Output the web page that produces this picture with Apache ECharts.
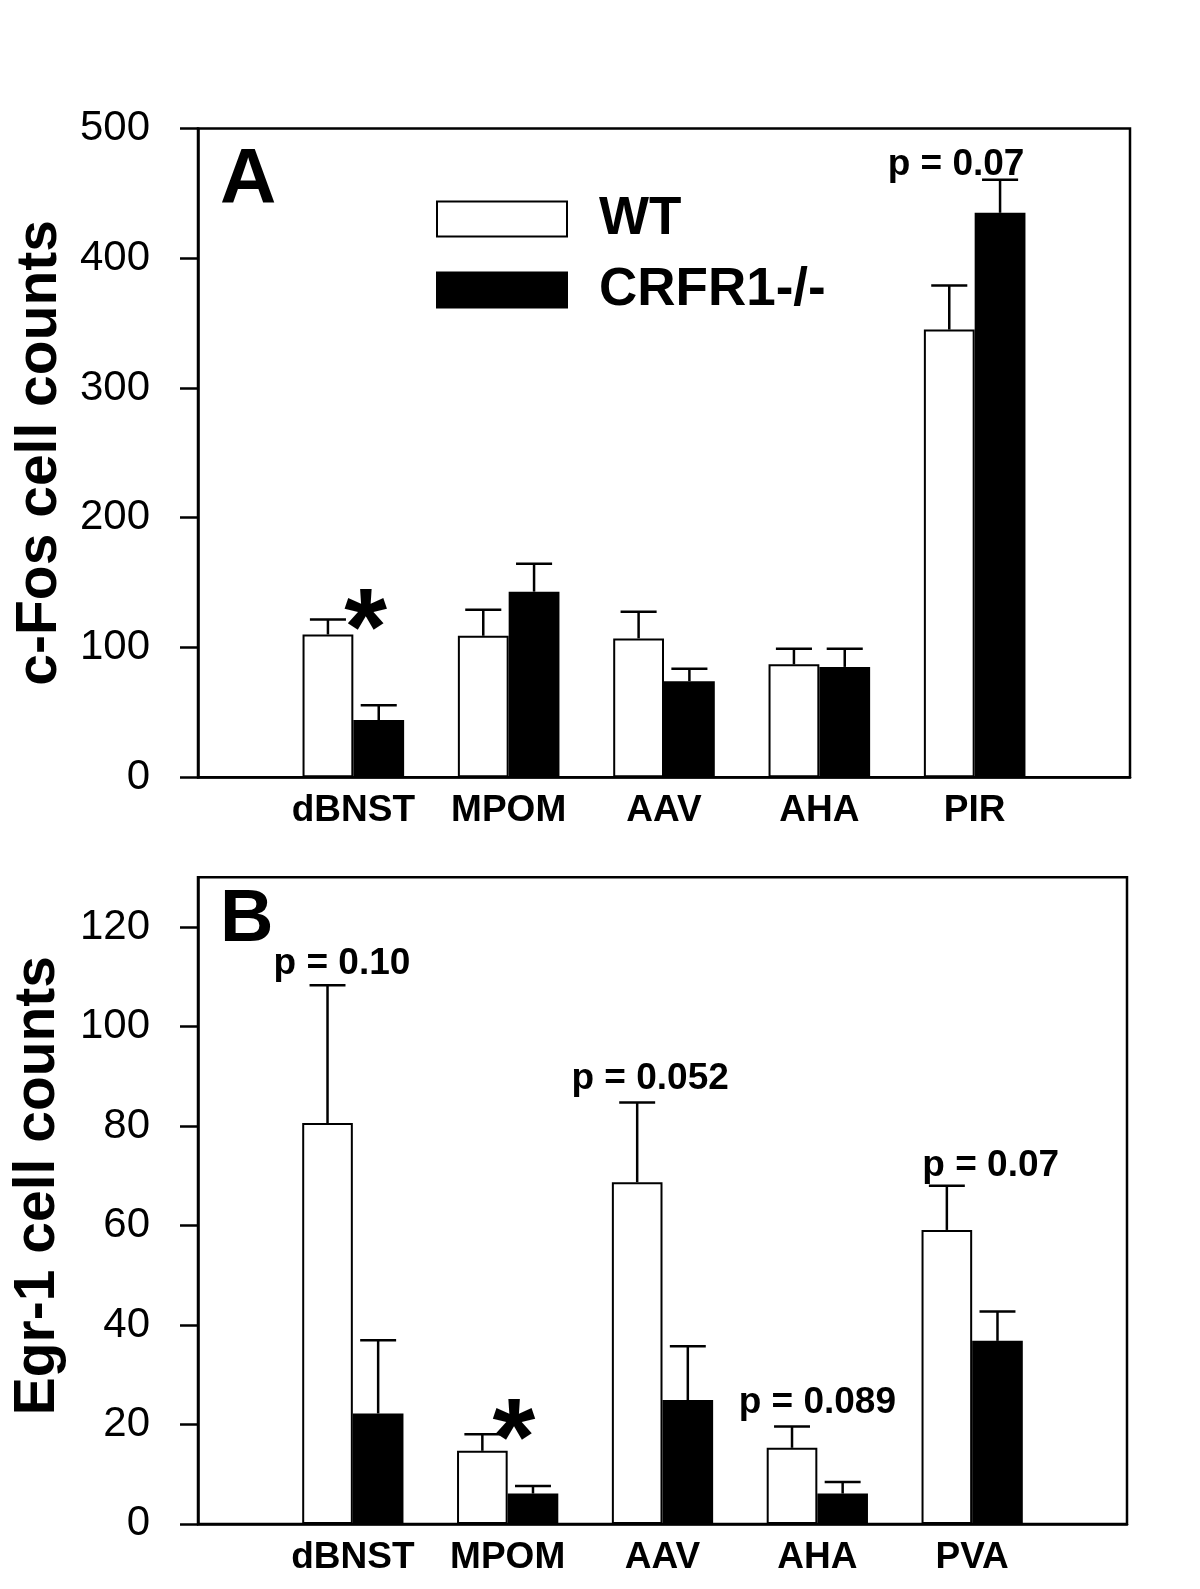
<!DOCTYPE html>
<html><head><meta charset="utf-8">
<script src="https://cdn.jsdelivr.net/npm/echarts@6/dist/echarts.min.js"></script>
<style>html,body{margin:0;padding:0;background:#fff}#c{width:1200px;height:1589px}</style>
</head><body><div id="c"></div>
<script>
// ---- data ----
const categoriesA = ['dBNST', 'MPOM', 'AAV', 'AHA', 'PIR'];
const categoriesB = ['dBNST', 'MPOM', 'AAV', 'AHA', 'PVA'];
const seriesNames = ['WT', 'CRFR1-/-'];
const wtA = [110, 109, 107, 87, 345];
const wtErrA = [11.5, 20, 20.5, 12, 34];
const koA = [44, 143, 74, 85, 435];
const koErrA = [11.5, 21.5, 9.5, 14, 25.5];
const wtB = [80.6, 14.7, 68.7, 15.3, 59.1];
const wtErrB = [27.7, 3.3, 16, 4.3, 8.9];
const koB = [22.2, 6.1, 24.9, 6.1, 36.8];
const koErrB = [14.7, 1.5, 10.8, 2.3, 5.9];
const yTicksA = [0, 100, 200, 300, 400, 500];
const yTicksB = [0, 20, 40, 60, 80, 100, 120];
const yTitleA = 'c-Fos cell counts';
const yTitleB = 'Egr-1 cell counts';
const panelLabels = ['A', 'B'];
// annotations, in data coordinates (x in category units from the y axis, y = text baseline)
const notesA = [{text: 'p = 0.07', x: 4.88, y: 464}];
const notesB = [
  {text: 'p = 0.10', x: 0.93, y: 110.5},
  {text: 'p = 0.052', x: 2.92, y: 87.5},
  {text: 'p = 0.089', x: 4.0, y: 22.3},
  {text: 'p = 0.07', x: 5.12, y: 70}
];
const starsA = [{x: 1.08, y: 111}];
const starsB = [{x: 2.04, y: 16.2}];

// ---- style ----
const FONT = '"Liberation Sans", Arial, Helvetica, sans-serif';
const BAR_RATIO = 0.327;
const CAP_HALF = 0.355;
const LW = 2.5;

function pad(arr) { return [''].concat(arr).concat([' ']); }
function pairs(arr) { return arr.map((v, i) => [i + 1, v]); }

function errData(wt, wtE, ko, koE) {
  return wt.map((v, i) => [i + 1, v, wtE[i], -1]).concat(ko.map((v, i) => [i + 1, v, koE[i], 1]));
}
function errRender(params, api) {
  const x = api.value(0), m = api.value(1), e = api.value(2), side = api.value(3);
  const p0 = api.coord([x, m]);
  const p1 = api.coord([x, m + e]);
  const bw = api.size([1, 0])[0] * BAR_RATIO;
  const cx = p0[0] + side * bw / 2;
  const half = bw * CAP_HALF;
  const st = {stroke: '#000', lineWidth: LW, fill: null};
  return {type: 'group', children: [
    {type: 'line', shape: {x1: cx, y1: p0[1], x2: cx, y2: p1[1]}, style: st},
    {type: 'line', shape: {x1: cx - half, y1: p1[1], x2: cx + half, y2: p1[1]}, style: st}
  ]};
}
function textSeries(list, xIdx, yIdx, size, valign, shift) {
  return {
    type: 'custom', xAxisIndex: xIdx, yAxisIndex: yIdx, z: 5, silent: true,
    data: list.map(n => [n.x, n.y]),
    renderItem: function (params, api) {
      const p = api.coord([api.value(0), api.value(1)]);
      return {type: 'text', x: p[0], y: p[1] + size * shift, style: {
        text: list[params.dataIndex].text || '*', fill: '#000',
        font: 'bold ' + size + 'px ' + FONT, align: 'center', verticalAlign: valign}};
    }
  };
}

const yAxisBase = {
  type: 'value', min: 0,
  axisLine: {show: true, lineStyle: {color: '#000', width: LW}},
  axisTick: {show: true, length: 18, lineStyle: {color: '#000', width: LW}},
  axisLabel: {fontSize: 42, color: '#000', fontFamily: FONT, margin: 48},
  splitLine: {show: false},
  nameLocation: 'middle',
  nameTextStyle: {fontSize: 57, fontWeight: 'bold', color: '#000', fontFamily: FONT}
};
const xAxisBase = {
  type: 'category', boundaryGap: false,
  axisLine: {lineStyle: {color: '#000', width: LW}},
  axisTick: {show: false},
  axisLabel: {interval: 0, fontSize: 37, fontWeight: 'bold', color: '#000', fontFamily: FONT, margin: 15}
};
const wtStyle = {color: '#fff', borderColor: '#000', borderWidth: 2};
const koStyle = {color: '#000', borderColor: '#000', borderWidth: 2};

const option = {
  animation: false,
  backgroundColor: '#fff',
  title: [
    {text: panelLabels[0], left: 220, top: 142, padding: 0, textStyle: {fontSize: 78, fontWeight: 'bold', color: '#000', fontFamily: FONT}},
    {text: panelLabels[1], left: 220, top: 884, padding: 0, textStyle: {fontSize: 74, fontWeight: 'bold', color: '#000', fontFamily: FONT}}
  ],
  legend: {
    data: seriesNames, orient: 'vertical', left: 436, top: 192, icon: 'rect', padding: 0,
    itemWidth: 130, itemHeight: 35, itemGap: 17, selectedMode: false,
    textStyle: {fontSize: 53, fontWeight: 'bold', color: '#000', fontFamily: FONT, lineHeight: 54, padding: [0, 0, 0, 27]}
  },
  grid: [
    {left: 198, top: 128.5, width: 932, height: 648.7, show: true, borderColor: '#000', borderWidth: LW, backgroundColor: 'transparent', outerBoundsMode: 'none'},
    {left: 198, top: 877.3, width: 929, height: 646.6, show: true, borderColor: '#000', borderWidth: LW, backgroundColor: 'transparent', outerBoundsMode: 'none'}
  ],
  xAxis: [
    Object.assign({}, xAxisBase, {gridIndex: 0, data: pad(categoriesA)}),
    Object.assign({}, xAxisBase, {gridIndex: 1, data: pad(categoriesB)}),
    {type: 'value', gridIndex: 0, min: 0, max: 6, show: false},
    {type: 'value', gridIndex: 1, min: 0, max: 6, show: false}
  ],
  yAxis: [
    Object.assign({}, yAxisBase, {gridIndex: 0, max: 500, interval: 100, name: yTitleA, nameGap: 129,
      axisLabel: Object.assign({}, yAxisBase.axisLabel, {customValues: yTicksA}),
      axisTick: Object.assign({}, yAxisBase.axisTick, {customValues: yTicksA})}),
    Object.assign({}, yAxisBase, {gridIndex: 1, max: 130, interval: 20, name: yTitleB, nameGap: 131,
      nameTextStyle: Object.assign({}, yAxisBase.nameTextStyle, {padding: [0, 0, 0, 30]}),
      axisLabel: Object.assign({}, yAxisBase.axisLabel, {customValues: yTicksB}),
      axisTick: Object.assign({}, yAxisBase.axisTick, {customValues: yTicksB})})
  ],
  series: [
    {name: seriesNames[0], type: 'bar', xAxisIndex: 0, yAxisIndex: 0, data: pairs(wtA), barWidth: (BAR_RATIO * 100) + '%', barGap: '0%', itemStyle: wtStyle, z: 2},
    {name: seriesNames[1], type: 'bar', xAxisIndex: 0, yAxisIndex: 0, data: pairs(koA), barWidth: (BAR_RATIO * 100) + '%', barGap: '0%', itemStyle: koStyle, z: 2},
    {type: 'custom', xAxisIndex: 0, yAxisIndex: 0, z: 3, silent: true, data: errData(wtA, wtErrA, koA, koErrA), renderItem: errRender},
    {name: seriesNames[0], type: 'bar', xAxisIndex: 1, yAxisIndex: 1, data: pairs(wtB), barWidth: (BAR_RATIO * 100) + '%', barGap: '0%', itemStyle: wtStyle, z: 2},
    {name: seriesNames[1], type: 'bar', xAxisIndex: 1, yAxisIndex: 1, data: pairs(koB), barWidth: (BAR_RATIO * 100) + '%', barGap: '0%', itemStyle: koStyle, z: 2},
    {type: 'custom', xAxisIndex: 1, yAxisIndex: 1, z: 3, silent: true, data: errData(wtB, wtErrB, koB, koErrB), renderItem: errRender},
    textSeries(notesA, 2, 0, 37, 'bottom', 0.22),
    textSeries(notesB, 3, 1, 37, 'bottom', 0.22),
    textSeries(starsA, 2, 0, 110, 'middle', 0),
    textSeries(starsB, 3, 1, 110, 'middle', 0)
  ]
};
const chart = echarts.init(document.getElementById('c'), null, {renderer: 'canvas'});
chart.setOption(option);
</script>
</body></html>
